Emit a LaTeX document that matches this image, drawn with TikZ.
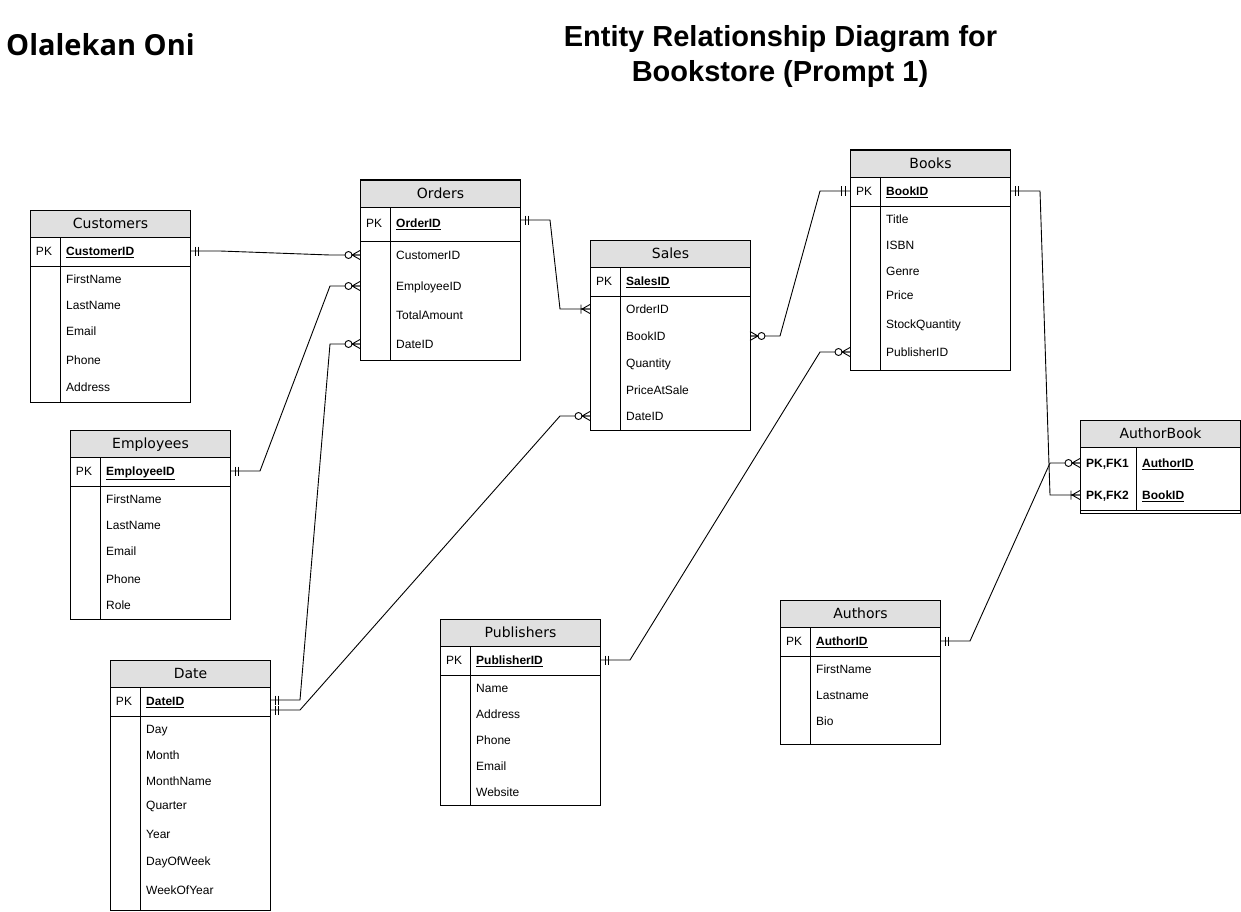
\documentclass[tikz,border=0pt]{standalone}
\usepackage{fontspec}
\setmainfont{Liberation Sans}
\newfontfamily\hdrfont{DejaVu Sans}
\newfontfamily\namefont{Open Sans}
\definecolor{hdrgray}{HTML}{E0E0E0}
\tikzset{
  tline/.style={line width=1pt},
  hdr/.style={draw, line width=1pt, fill=hdrgray, minimum width=160pt, minimum height=27pt,
    inner sep=0pt, font=\hdrfont\fontsize{14}{16}\selectfont, text height=8.8pt, text depth=0pt},
  fld/.style={anchor=west, inner sep=0pt, font=\fontsize{12}{14}\selectfont, text height=8.6pt, text depth=0pt},
  pklbl/.style={inner sep=0pt, font=\fontsize{12}{14}\selectfont, text height=8.6pt, text depth=0pt},
  conn/.style={line width=0.9pt},
  mone/.pic={\draw[line width=0.9pt] (5,-4.5)--(5,4.5) (8.5,-4.5)--(8.5,4.5);},
  zmany/.pic={\draw[line width=0.9pt] (0,-4.5)--(8,0)--(0,4.5) (0,0)--(8,0);
              \draw[line width=0.9pt, fill=white] (11.5,0) circle (3.5);},
  omany/.pic={\draw[line width=0.9pt] (0,-4.5)--(8,0)--(0,4.5) (0,0)--(8,0) (9,-4.5)--(9,4.5);},
}
\newcommand\keyname[1]{\underline{\textbf{#1}}}
% #1 name, #2 x, #3 ytop, #4 title, #5 pk-row bottom, #6 bottom, #7 key, #8 key y, #9 fields
\newcommand\ertab[9]{%
  \node[hdr, anchor=north west] (#1) at (#2,#3) {#4};
  \draw[tline] (#2,#3) rectangle ({#2+160},#6);
  \draw[tline] (#2,#5) -- ({#2+160},#5);
  \draw[tline] ({#2+30},{#3+27}) -- ({#2+30},#6);
  \node[pklbl] (#1-pklbl) at ({#2+14},#8) {PK};
  \node[fld] (#1-key) at ({#2+36},#8) {\keyname{#7}};
  \coordinate (#1-pk-e) at ({#2+160},#8);
  \coordinate (#1-pk-w) at (#2,#8);
  \foreach \t/\y [count=\i] in {#9} {
    \node[fld] (#1-\i) at ({#2+36},\y) {\t};
    \coordinate (#1-\i-w) at (#2,\y);
    \coordinate (#1-\i-e) at ({#2+160},\y);
  }%
}
\begin{document}
\begin{tikzpicture}[x=1pt,y=-1pt]
\fill[white] (0,0) rectangle (1241,912);
\useasboundingbox (0,0) rectangle (1241,912);

% titles
\node[anchor=base west, inner sep=0pt, font=\namefont\bfseries\fontsize{29}{33}\selectfont] (author) at (6,56) {Olalekan Oni};
\node[anchor=base, inner sep=0pt, font=\bfseries\fontsize{29}{34}\selectfont] (title1) at (780.5,47) {Entity Relationship Diagram for};
\node[anchor=base, inner sep=0pt, font=\bfseries\fontsize{29}{34}\selectfont] (title2) at (780,82) {Bookstore (Prompt 1)};

% tables
\ertab{Customers}{30}{210}{Customers}{266}{402}{CustomerID}{251}{FirstName/279, LastName/305, Email/331, Phone/360, Address/387}
\ertab{Orders}{360}{180}{Orders}{241}{360}{OrderID}{223}{CustomerID/255, EmployeeID/286, TotalAmount/315, DateID/344}
\ertab{Sales}{590}{240}{Sales}{296}{430}{SalesID}{281}{OrderID/309, BookID/336, Quantity/363, PriceAtSale/390, DateID/416}
\ertab{Books}{850}{150}{Books}{206}{370}{BookID}{191}{Title/219, ISBN/245, Genre/271, Price/295, StockQuantity/324, PublisherID/352}
\ertab{Employees}{70}{430}{Employees}{486}{619}{EmployeeID}{471}{FirstName/499, LastName/525, Email/551, Phone/579, Role/605}
\ertab{Date}{110}{660}{Date}{716}{910}{DateID}{701}{Day/729, Month/755, MonthName/781, Quarter/805, Year/834, DayOfWeek/861, WeekOfYear/890}
\ertab{Publishers}{440}{619}{Publishers}{675}{805}{PublisherID}{660}{Name/688, Address/714, Phone/740, Email/766, Website/792}
\ertab{Authors}{780}{600}{Authors}{656}{744}{AuthorID}{641}{FirstName/669, Lastname/695, Bio/721}

% AuthorBook
\node[hdr, anchor=north west] (AuthorBook) at (1080,420) {AuthorBook};
\draw[tline] (1080,420) rectangle (1240,513);
\draw[tline] (1080,510) -- (1240,510);
\draw[tline] (1136,447) -- (1136,510);
\node[fld] (ab-pk1) at (1086,463) {\textbf{PK,FK1}};
\node[fld] (ab-k1) at (1142,463) {\keyname{AuthorID}};
\node[fld] (ab-pk2) at (1086,495) {\textbf{PK,FK2}};
\node[fld] (ab-k2) at (1142,495) {\keyname{BookID}};
\coordinate (AuthorBook-1-w) at (1080,463);
\coordinate (AuthorBook-2-w) at (1080,495);

% extra anchors on Date / Orders
\coordinate (Date-a) at (270,700);
\coordinate (Date-b) at (270,710);
\coordinate (Orders-pk-c) at (520,220);

% connectors
\draw[conn] (Customers-pk-e) -- ([xshift=30pt]Customers-pk-e) -- ([xshift=-30pt]Orders-1-w) -- (Orders-1-w);
\draw[conn] (Employees-pk-e) -- ([xshift=30pt]Employees-pk-e) -- ([xshift=-30pt]Orders-2-w) -- (Orders-2-w);
\draw[conn] (Date-a) -- ([xshift=30pt]Date-a) -- ([xshift=-30pt]Orders-4-w) -- (Orders-4-w);
\draw[conn] (Date-b) -- ([xshift=30pt]Date-b) -- ([xshift=-30pt]Sales-5-w) -- (Sales-5-w);
\draw[conn] (Orders-pk-c) -- ([xshift=30pt]Orders-pk-c) -- ([xshift=-30pt]Sales-1-w) -- (Sales-1-w);
\draw[conn] (Sales-2-e) -- ([xshift=30pt]Sales-2-e) -- ([xshift=-30pt]Books-pk-w) -- (Books-pk-w);
\draw[conn] (Publishers-pk-e) -- ([xshift=30pt]Publishers-pk-e) -- ([xshift=-30pt]Books-6-w) -- (Books-6-w);
\draw[conn] (Books-pk-e) -- ([xshift=30pt]Books-pk-e) -- ([xshift=-30pt]AuthorBook-2-w) -- (AuthorBook-2-w);
\draw[conn] (Authors-pk-e) -- ([xshift=30pt]Authors-pk-e) -- ([xshift=-30pt]AuthorBook-1-w) -- (AuthorBook-1-w);

% markers
\pic at (Customers-pk-e) {mone};
\pic[xscale=-1] at (Orders-1-w) {zmany};
\pic at (Employees-pk-e) {mone};
\pic[xscale=-1] at (Orders-2-w) {zmany};
\pic at (Date-a) {mone};
\pic[xscale=-1] at (Orders-4-w) {zmany};
\pic at (Date-b) {mone};
\pic[xscale=-1] at (Sales-5-w) {zmany};
\pic at (Orders-pk-c) {mone};
\pic[xscale=-1] at (Sales-1-w) {omany};
\pic at (Sales-2-e) {zmany};
\pic[xscale=-1] at (Books-pk-w) {mone};
\pic at (Publishers-pk-e) {mone};
\pic[xscale=-1] at (Books-6-w) {zmany};
\pic at (Books-pk-e) {mone};
\pic[xscale=-1] at (AuthorBook-2-w) {omany};
\pic at (Authors-pk-e) {mone};
\pic[xscale=-1] at (AuthorBook-1-w) {zmany};
\end{tikzpicture}
\end{document}
